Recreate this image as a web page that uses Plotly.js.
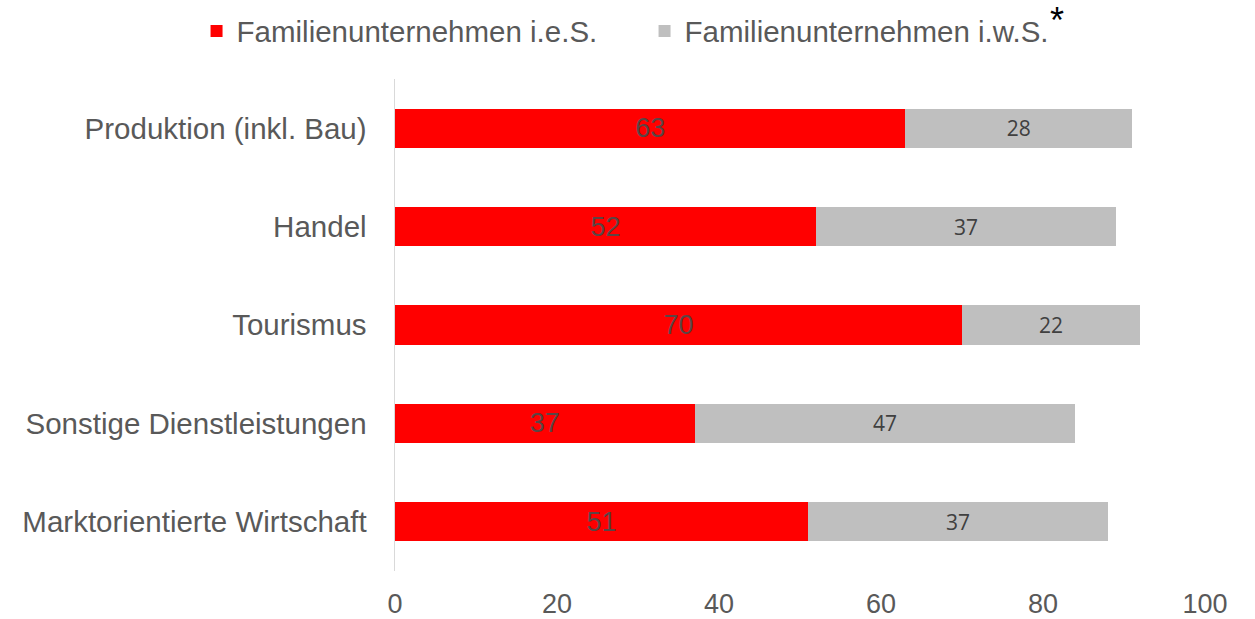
<!DOCTYPE html>
<html>
<head>
<meta charset="utf-8">
<script src="https://cdn.plot.ly/plotly-3.0.1.min.js"></script>
<style>html,body{margin:0;padding:0;background:#fff;}#chart{width:1255px;height:619px;}</style>
</head>
<body>
<div id="chart"></div>
<script>
const categories = ["Produktion (inkl. Bau)", "Handel", "Tourismus", "Sonstige Dienstleistungen", "Marktorientierte Wirtschaft"];
const seriesNames = ["Familienunternehmen i.e.S.", "Familienunternehmen i.w.S."];
const valuesIeS = [63, 52, 70, 37, 51];
const valuesIwS = [28, 37, 22, 47, 37];
const tickValues = [0, 20, 40, 60, 80, 100];

const traces = [
  {
    type: 'bar', orientation: 'h', name: seriesNames[0],
    y: categories, x: valuesIeS,
    marker: {color: '#ff0000'},
    text: valuesIeS.map(String), textposition: 'inside', insidetextanchor: 'middle',
    textfont: {family: 'Liberation Sans, Arial, sans-serif', size: 27, color: '#5a4545'},
    hoverinfo: 'x+name'
  },
  {
    type: 'bar', orientation: 'h', name: seriesNames[1],
    y: categories, x: valuesIwS,
    marker: {color: '#bfbfbf'},
    text: valuesIwS.map(String), textposition: 'inside', insidetextanchor: 'middle',
    textfont: {family: 'Open Sans, sans-serif', size: 21, color: '#404040'},
    hoverinfo: 'x+name'
  }
];

const layout = {
  width: 1255, height: 619,
  barmode: 'stack', bargap: 0.6,
  margin: {l: 395, r: 50, t: 79, b: 48, autoexpand: false},
  paper_bgcolor: '#ffffff', plot_bgcolor: '#ffffff',
  font: {family: 'Liberation Sans, Arial, sans-serif', color: '#595959', size: 28},
  xaxis: {
    range: [0, 100], tickvals: tickValues, ticktext: tickValues.map(String),
    showgrid: false, zeroline: false, showline: false, ticks: '',
    tickfont: {size: 27, color: '#595959'}, ticklabelstandoff: 14, fixedrange: true,
    automargin: false
  },
  yaxis: {
    autorange: 'reversed', type: 'category',
    showgrid: false, zeroline: false, showline: true, linecolor: '#d9d9d9', linewidth: 1.5,
    ticks: '', ticklabelstandoff: 21, automargin: false,
    tickfont: {size: 29.5, color: '#595959'}, fixedrange: true
  },
  showlegend: true,
  legend: {
    orientation: 'h', x: -0.245, xanchor: 'left', y: 1.15, yanchor: 'top',
    font: {size: 29.5, color: '#595959'}, traceorder: 'normal',
    entrywidth: 403, entrywidthmode: 'pixels'
  },
  annotations: [{
    xref: 'paper', yref: 'paper', x: (1057 - 395) / 810, y: (571 - 21) / 492,
    text: '*', showarrow: false, font: {size: 36, color: '#000000'},
    xanchor: 'center', yanchor: 'middle'
  }]
};

Plotly.newPlot('chart', traces, layout, {displayModeBar: false, staticPlot: true});
</script>
</body>
</html>
